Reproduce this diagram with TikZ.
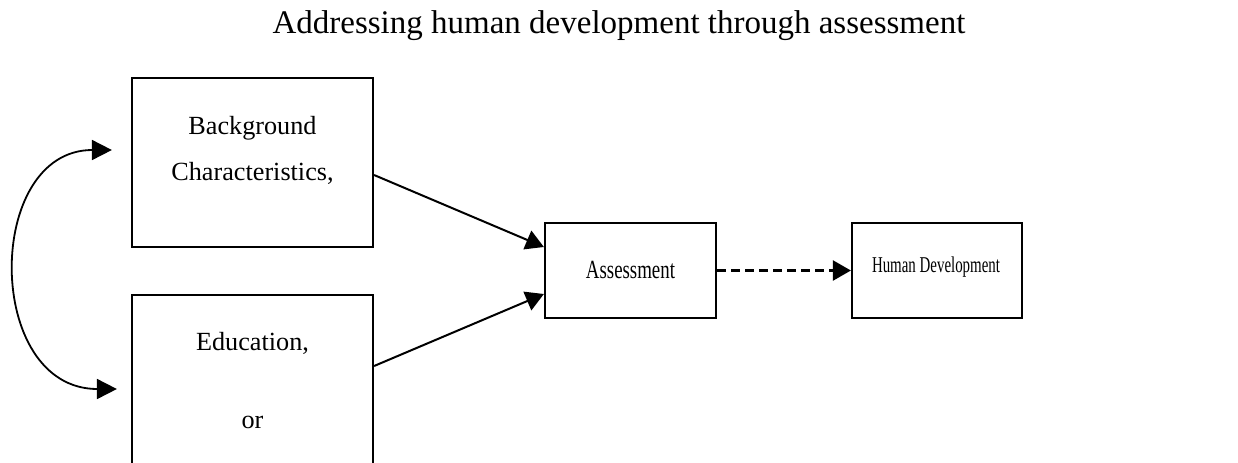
\documentclass[tikz,border=0pt]{standalone}
\usepackage{fontspec}
\setmainfont{Liberation Serif}
\usepackage{graphicx}
\usepackage{tikz}
\usetikzlibrary{calc,arrows.meta,positioning}
\tikzset{
	box/.style={draw, line width=1.1pt, inner sep=0pt},
	txt/.style={anchor=base, inner sep=0pt, font=\fontsize{13.1}{15}\selectfont},
	arr/.style={line width=1pt, -{Triangle[length=9pt,width=10pt]}},
	dasharr/.style={arr, line width=1.2pt, dash pattern=on 4.5pt off 2.5pt},
	bothways/.style={line width=0.9pt, {Triangle[length=10pt,width=10pt]}-{Triangle[length=10pt,width=10pt]}}
}

\begin{document}
\begin{tikzpicture}[x=0.5pt, y=-0.5pt]
		%%%%% START %%%%%
		\clip (0, 0) rectangle (1238, 462);
		\useasboundingbox (0, 0) rectangle (1238, 462);
		
		\node[anchor=base, inner sep=0pt, font=\fontsize{16.5}{19}\selectfont] (title) at (619, 33) {Addressing human development through assessment};
		
		\node[box, minimum width=120.5pt, minimum height=84.5pt] (bg) at (252.5, 162.5) {};
		\node[txt] (bgone) at (252.5, 134) {Background};
		\node[txt] (bgtwo) at (252.5, 180) {Characteristics,};
		
		\node[box, minimum width=120.5pt, minimum height=105pt] (edu) at (252.5, 400) {};
		\node[txt] (eduone) at (252.5, 350) {Education,};
		\node[txt] (edutwo) at (252.5, 428) {or};
		
		\node[box, minimum width=85.5pt, minimum height=47.5pt] (assess) at (630.5, 270.5) {};
		\node[txt] (assesstxt) at (630.5, 278) {\scalebox{0.72}[1]{Assessment}};
		
		\node[box, minimum width=85pt, minimum height=47.5pt] (hd) at (937, 270.5) {};
		\node[anchor=base, inner sep=0pt, font=\fontsize{11.3}{13}\selectfont] (hdtxt) at (936, 272.7) {\scalebox{0.66}[1]{Human Development}};
		
		\draw[arr] ($(bg.east)+(0, 12.5)$) -- ($(assess.west)+(0, -23.5)$);
		\draw[arr] ($(edu.east)+(0, -34)$) -- ($(assess.west)+(0, 23.5)$);
		\draw[dasharr] (assess.east) -- (hd.west);
		
		\coordinate (bgin) at ($(bg.west)+(-19, -12.5)$);
		\coordinate (eduin) at ($(edu.west)+(-14, -11)$);
		\draw[bothways] (bgin) .. controls (-16, 150) and (-16, 389) .. (eduin);
		%%%%% END %%%%%
	\end{tikzpicture}
\end{document}
